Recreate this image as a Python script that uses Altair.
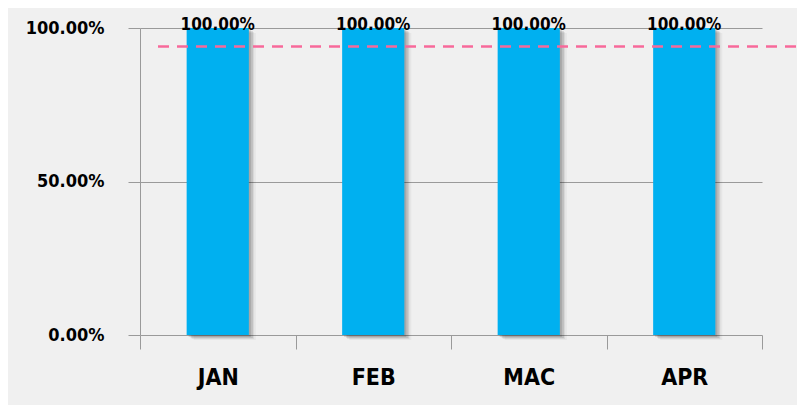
import altair as alt
import pandas as pd

months = ["JAN", "FEB", "MAC", "APR"]
values = [1.0, 1.0, 1.0, 1.0]
target = [0.94]

FONT = "Liberation Sans Narrow, DejaVu Sans Condensed, sans-serif"

df = pd.DataFrame({"month": months, "value": values})
tdf = pd.DataFrame({"target": target})

xenc = alt.X(
    "month:N",
    sort=months,
    title=None,
    scale=alt.Scale(paddingInner=0, paddingOuter=0),
    axis=alt.Axis(
        labelAngle=0, domain=False, grid=False, ticks=True, tickSize=14,
        tickBand="extent", tickColor="#9a9a9a", labelPadding=17,
        labelFont=FONT, labelFontSize=23, labelFontWeight="bold", labelColor="#000",
        labelBaseline="top",
    ),
)
yenc = alt.Y(
    "value:Q",
    title=None,
    scale=alt.Scale(domain=[0, 1], nice=False),
    axis=alt.Axis(
        values=[0, 0.5, 1], format=".2%", domain=True, domainColor="#9a9a9a",
        tickSize=12, tickColor="#9a9a9a", grid=True, gridColor="#9a9a9a",
        gridOpacity=1, labelPadding=24, labelFont=FONT, labelFontSize=18,
        labelFontWeight="bold", labelColor="#000",
    ),
)

base = alt.Chart(df).encode(x=xenc, y=yenc)

shadows = [
    base.mark_bar(width=alt.RelativeBandSize(0.4), color="#000", opacity=op,
                  xOffset=dx, yOffset=dy)
    for dx, dy, op in [(7, 5, 0.04), (5, 4, 0.07), (4, 3, 0.10), (2, 2, 0.12)]
]

bars = base.mark_bar(width=alt.RelativeBandSize(0.4), color="#00b0f0")

labels = base.mark_text(
    baseline="alphabetic", dy=2, font=FONT, fontSize=17, fontWeight="bold", color="#000"
).encode(text=alt.Text("value:Q", format=".2%"))

rule = alt.Chart(tdf).mark_rule(
    strokeDash=[11, 8], color="#f7699a", strokeWidth=2.5, clip=False
).encode(y="target:Q", x=alt.value(18), x2=alt.value(660))

chart = alt.layer(*shadows, bars, rule, labels).properties(
    width=622,
    height=307,
    autosize=alt.AutoSizeParams(type="none"),
    padding={"left": 132, "top": 20, "right": 35, "bottom": 70},
    background="#f0f0f0",
).configure_view(stroke=None)

chart.save("out.html", embed_options={"renderer": "svg", "actions": False})
